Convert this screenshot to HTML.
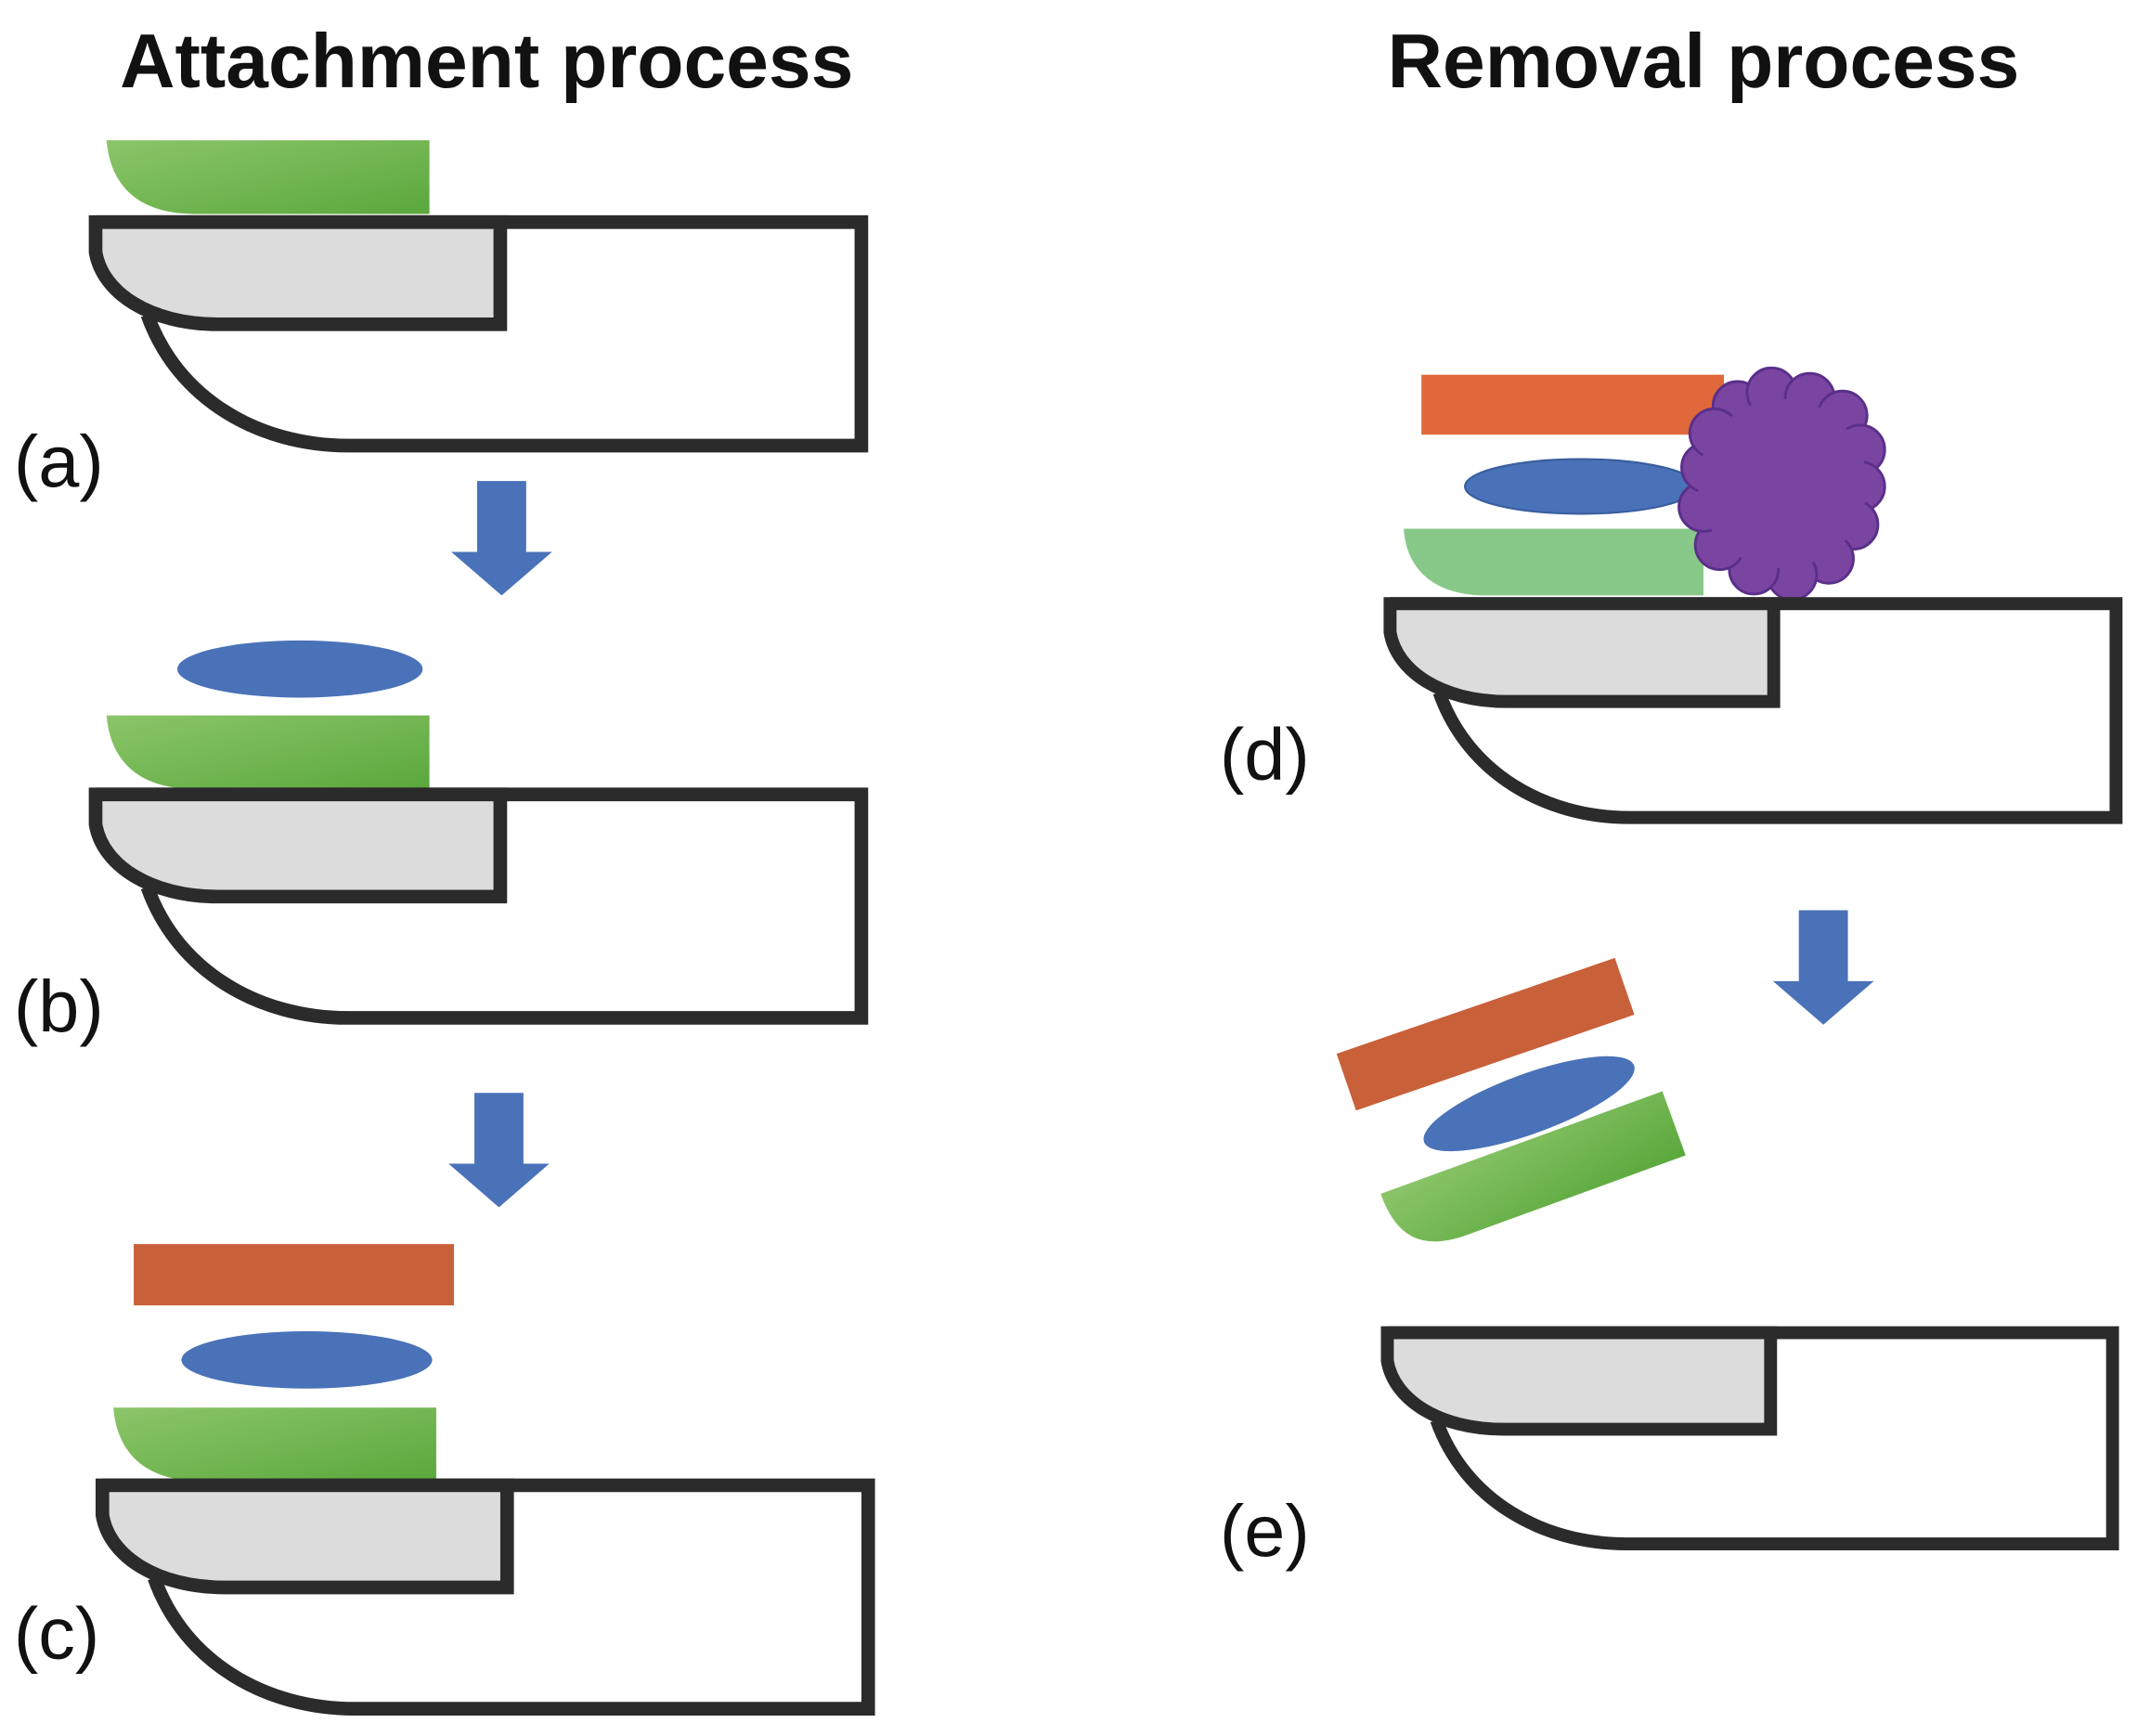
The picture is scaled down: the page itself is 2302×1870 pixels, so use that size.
<!DOCTYPE html>
<html><head><meta charset="utf-8"><style>
html,body{margin:0;padding:0;background:#fff}
svg{display:block}
text{font-family:"Liberation Sans",Arial,sans-serif}
</style></head><body>
<svg width="2302" height="1870" viewBox="0 0 1568 1274" xmlns="http://www.w3.org/2000/svg">
<defs>
<linearGradient id="g1" x1="0" y1="0" x2="1" y2="1"><stop offset="0" stop-color="#8cc56a"/><stop offset="1" stop-color="#5aa83c"/></linearGradient>
<g id="finger">
<path d="M0,0 H562 V164 H185 C120,164 60,130 38,68" fill="#fff" stroke="#2b2b2b" stroke-width="10" stroke-linejoin="miter"/>
<path d="M0,0 H297 V75 H90 C40,75 5,52 0,22 Z" fill="#dcdcdc" stroke="#2b2b2b" stroke-width="10"/>
</g>
<path id="nail" d="M0,0 H237 V54 H65 C25,54 3,35 0,0 Z"/>
<g id="arrow"><path d="M-18,0 H18 V52 H37 L0,84 L-37,52 H-18 Z" fill="#4a72b8"/></g>
</defs>
<rect width="1568" height="1274" fill="#fff"/>
<text x="357" y="64" font-size="56" font-weight="bold" text-anchor="middle" fill="#111">Attachment process</text>
<text x="1250" y="64" font-size="56" font-weight="bold" text-anchor="middle" fill="#111">Removal process</text>

<use href="#nail" x="78" y="103" fill="url(#g1)"/>
<use href="#finger" x="70" y="163"/>
<text x="10" y="357" font-size="54" fill="#111">(a)</text>
<use href="#arrow" x="368" y="353"/>

<ellipse cx="220" cy="491" rx="90" ry="21" fill="#4a72b8"/>
<use href="#nail" x="78" y="525" fill="url(#g1)"/>
<use href="#finger" x="70" y="583"/>
<text x="10" y="757" font-size="54" fill="#111">(b)</text>
<use href="#arrow" x="366" y="802"/>

<rect x="98" y="913" width="235" height="45" fill="#c8603a"/>
<ellipse cx="225" cy="998" rx="92" ry="21" fill="#4a72b8"/>
<use href="#nail" x="83" y="1033" fill="url(#g1)"/>
<use href="#finger" x="75" y="1090"/>
<text x="10" y="1217" font-size="54" fill="#111">(c)</text>

<rect x="1043" y="275" width="222" height="44" fill="#e0683a"/>
<ellipse cx="1160" cy="357" rx="85" ry="20" fill="#4a72b8" stroke="#3a5fa0" stroke-width="1.5"/>
<path d="M1030,388 H1250 V437 H1090 C1055,437 1032,420 1030,388 Z" fill="#88c98a"/>
<g fill="#7a45a0" stroke="#5a2f8a" stroke-width="2">
<circle cx="1275" cy="298" r="18"/><circle cx="1300" cy="288" r="18"/><circle cx="1328" cy="292" r="18"/><circle cx="1352" cy="305" r="18"/>
<circle cx="1365" cy="330" r="18"/><circle cx="1365" cy="357" r="18"/><circle cx="1360" cy="385" r="18"/><circle cx="1342" cy="410" r="18"/>
<circle cx="1315" cy="422" r="18"/><circle cx="1287" cy="418" r="18"/><circle cx="1262" cy="400" r="18"/><circle cx="1250" cy="372" r="18"/>
<circle cx="1252" cy="343" r="18"/><circle cx="1258" cy="318" r="18"/>
<circle cx="1308" cy="355" r="62" stroke="none"/>
</g>
<g transform="translate(1020,443) scale(0.948,0.957)"><use href="#finger"/></g>
<text x="895" y="572" font-size="54" fill="#111">(d)</text>
<use href="#arrow" x="1338" y="668"/>

<g transform="translate(1090,759) rotate(-19)"><rect x="-108" y="-22" width="216" height="44" fill="#c8603a"/></g>
<ellipse cx="1122" cy="810" rx="82" ry="22" fill="#4a72b8" transform="rotate(-20 1122 810)"/>
<g transform="translate(1125,862) rotate(-20)"><path d="M-110,-25 H110 V25 H-60 C-95,25 -110,10 -110,-25 Z" fill="url(#g1)"/></g>
<g transform="translate(1018,978) scale(0.947,0.945)"><use href="#finger"/></g>
<text x="895" y="1142" font-size="54" fill="#111">(e)</text>
</svg>
</body></html>
